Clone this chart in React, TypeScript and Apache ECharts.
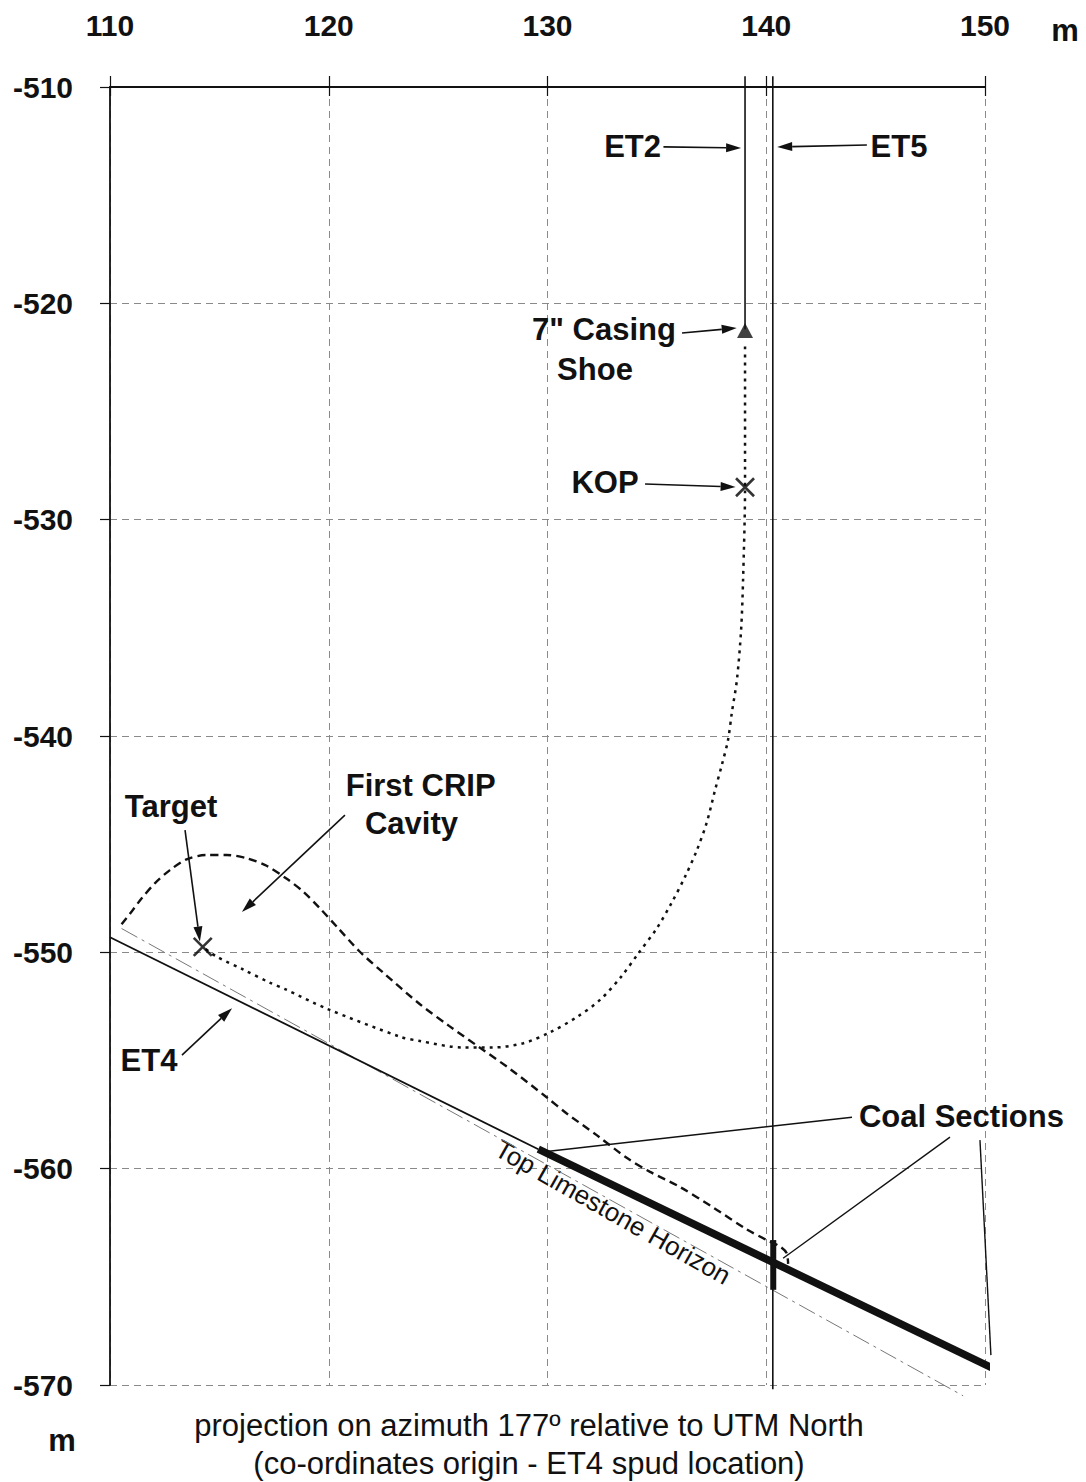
import React, { useEffect, useRef } from "react";
import * as echarts from "echarts";

const xTickValues = [110, 120, 130, 140, 150];
const yTickValues = [-510, -520, -530, -540, -550, -560, -570];

const et2Well = [[139.03, -509.5], [139.03, -521.2]];
const et5Well = [[140.3, -509.5], [140.3, -570.2]];
const casingShoe = [[139.03, -521.25]];
const kickOffPoint = [[139.03, -528.5]];
const targetPoint = [[114.24, -549.75]];

const plannedTrajectory = [
  [139.03, -522.0], [139.03, -528.5], [138.94, -532.8], [138.85, -535.1],
  [138.66, -537.4], [138.43, -538.9], [138.25, -540.2], [137.98, -541.3],
  [137.66, -542.5], [137.28, -544.0], [136.82, -545.3], [136.29, -546.5],
  [135.68, -547.7], [134.99, -548.9], [134.15, -550.05], [133.39, -551.1],
  [132.4, -552.2], [131.33, -553.0], [130.11, -553.7], [128.9, -554.2],
  [127.5, -554.4], [126.15, -554.4], [124.17, -554.1], [123.26, -553.9],
  [119.9, -552.6], [118.0, -551.7], [117.3, -551.4], [116.1, -550.8],
  [114.88, -550.2], [114.24, -549.75],
];

const cavityOutline = [
  [110.53, -548.7], [111.0, -548.1], [111.45, -547.5], [112.06, -546.8],
  [112.74, -546.2], [113.5, -545.7], [114.42, -545.5], [115.33, -545.5],
  [116.25, -545.65], [117.16, -546.0], [118.08, -546.6], [118.84, -547.2],
  [119.6, -547.97], [120.4, -548.85], [121.4, -549.95], [122.5, -550.95],
  [124.17, -552.4], [125.5, -553.4], [126.9, -554.4], [128.3, -555.4],
  [129.96, -556.7], [130.88, -557.45], [132.25, -558.45], [133.62, -559.5],
  [134.69, -560.15], [136.06, -560.85], [137.58, -561.8], [139.1, -562.8],
  [140.02, -563.3], [140.63, -563.6], [140.93, -563.9], [141.0, -564.4],
];

const et4Upper = [[110.0, -549.3], [129.58, -559.1]];
const et4Coal = [[129.58, -559.1], [150.3, -569.2]];
const et5Coal = [[140.32, -563.3], [140.32, -565.6]];
const limestoneHorizon = [[110.53, -548.9], [149.0, -570.5]];

const labelTexts = ["ET2", "ET5", "7\" Casing", "Shoe", "KOP", "Target", "First CRIP", "Cavity", "ET4", "Coal Sections"];
const labelAnchors = [
  [133.89, -512.77], [146.07, -512.77], [132.58, -521.23], [132.17, -523.08],
  [132.63, -528.26], [112.79, -543.24], [124.2, -542.27], [123.78, -544.03],
  [111.78, -554.98], [148.92, -557.57],
];

const arrowStarts = [
  [135.3, -512.77], [144.6, -512.68], [136.15, -521.37], [134.46, -528.35],
  [113.43, -544.35], [120.74, -543.66], [113.29, -554.75],
];
const arrowEnds = [
  [138.85, -512.82], [140.5, -512.77], [138.65, -521.14], [138.6, -528.49],
  [114.11, -549.5], [116.03, -548.14], [115.58, -552.58],
];

const leaderStarts = [[143.92, -557.62], [148.4, -558.54], [149.77, -558.68]];
const leaderEnds = [[129.66, -559.24], [140.77, -564.14], [150.27, -568.62]];

const horizonLabel = "Top Limestone Horizon";
const horizonLabelAnchor = [132.99, -562.01];

const captionLines = [
  "projection on azimuth 177º relative to UTM North",
  "(co-ordinates origin - ET4 spud location)",
];

const INK = "#111";
const BOLD = 'bold 31px "Liberation Sans", Arial, sans-serif';

export default function App() {
  const ref = useRef<HTMLDivElement>(null);

  useEffect(() => {
    if (!ref.current) return;
    const chart = echarts.init(ref.current, null, { renderer: "svg" });

    const crossSymbol = "path://M0 0 L10 10 M10 0 L0 10";

    const lineSeries = (data: number[][], width: number, type: any, color = INK, z = 3, smooth: any = false) => ({
      type: "line",
      data,
      clip: false,
      symbol: "none",
      silent: true,
      smooth,
      z,
      lineStyle: { color, width, type, cap: "butt" },
    });

    const option: any = {
      animation: false,
      backgroundColor: "#fff",
      grid: { left: 110, top: 87, width: 875, height: 1298, containLabel: false },
      xAxis: [
        {
          type: "value",
          position: "top",
          min: 110,
          max: 150,
          interval: 10,
          axisLine: { show: true, lineStyle: { color: INK, width: 1.8 } },
          axisTick: { show: true, length: 11, lineStyle: { color: INK, width: 1.2 } },
          axisLabel: {
            margin: 47,
            color: INK,
            fontSize: 30,
            fontWeight: "bold",
            fontFamily: '"Liberation Sans", Arial, sans-serif',
            formatter: (v: number) => (xTickValues.includes(v) ? String(v) : ""),
          },
          splitLine: { show: true, lineStyle: { color: "#8a8a8a", width: 1, type: [7, 5] } },
        },
        {
          type: "value",
          position: "top",
          min: 110,
          max: 150,
          interval: 10,
          axisLine: { show: false },
          axisTick: { show: true, inside: true, length: 9, lineStyle: { color: INK, width: 1.2 } },
          axisLabel: { show: false },
          splitLine: { show: false },
        },
      ],
      yAxis: {
        type: "value",
        min: -570,
        max: -510,
        interval: 10,
        axisLine: { show: true, lineStyle: { color: INK, width: 1.8 } },
        axisTick: { show: true, length: 10, lineStyle: { color: INK, width: 1.2 } },
        axisLabel: {
          margin: 37,
          color: INK,
          fontSize: 30,
          fontWeight: "bold",
          fontFamily: '"Liberation Sans", Arial, sans-serif',
          formatter: (v: number) => (yTickValues.includes(v) ? String(v) : ""),
        },
        splitLine: { show: true, lineStyle: { color: "#8a8a8a", width: 1, type: [7, 5] } },
      },
      series: [
        lineSeries(limestoneHorizon, 1, [18, 5, 3, 5], "#777", 2),
        lineSeries(et2Well, 1.6, "solid"),
        lineSeries(et5Well, 1.6, "solid"),
        lineSeries(plannedTrajectory, 2.5, [3, 5], INK, 3, 0.3),
        lineSeries(cavityOutline, 2.4, [8, 5], INK, 3, 0.3),
        lineSeries(et4Upper, 1.8, "solid"),
        lineSeries(et4Coal, 7.5, "solid"),
        lineSeries(et5Coal, 6, "solid"),
        {
          type: "scatter",
          data: casingShoe,
          symbol: "triangle",
          symbolSize: [16, 15],
          clip: false,
          z: 5,
          itemStyle: { color: INK },
        },
        {
          type: "scatter",
          data: [...kickOffPoint, ...targetPoint],
          symbol: crossSymbol,
          symbolSize: 18,
          clip: false,
          z: 5,
          itemStyle: { color: "none", borderColor: "#000", borderWidth: 2.6 },
        },
      ],
    };

    chart.setOption(option);

    const px = (p: number[]) => chart.convertToPixel({ xAxisIndex: 0, yAxisIndex: 0 }, p) as number[];
    const elements: any[] = [];

    labelTexts.forEach((t, i) => {
      const p = px(labelAnchors[i]);
      elements.push({
        type: "text",
        x: p[0],
        y: p[1],
        style: { text: t, font: BOLD, fill: INK, textAlign: "center", textVerticalAlign: "middle" },
      });
    });

    arrowStarts.forEach((s, i) => {
      const a = px(s);
      const b = px(arrowEnds[i]);
      const dx = b[0] - a[0];
      const dy = b[1] - a[1];
      const L = Math.hypot(dx, dy);
      const ux = dx / L;
      const uy = dy / L;
      const hl = 15;
      const hw = 4.5;
      const bx = b[0] - ux * hl;
      const by = b[1] - uy * hl;
      elements.push({
        type: "line",
        shape: { x1: a[0], y1: a[1], x2: bx, y2: by },
        style: { stroke: INK, lineWidth: 1.6 },
      });
      elements.push({
        type: "polygon",
        shape: { points: [[b[0], b[1]], [bx - uy * hw, by + ux * hw], [bx + uy * hw, by - ux * hw]] },
        style: { fill: INK },
      });
    });

    leaderStarts.forEach((s, i) => {
      const a = px(s);
      const b = px(leaderEnds[i]);
      elements.push({
        type: "line",
        shape: { x1: a[0], y1: a[1], x2: b[0], y2: b[1] },
        style: { stroke: INK, lineWidth: 1.4 },
      });
    });

    const hp = px(horizonLabelAnchor);
    elements.push({
      type: "text",
      x: hp[0],
      y: hp[1],
      rotation: (-29.5 * Math.PI) / 180,
      style: {
        text: horizonLabel,
        font: '26px "Liberation Sans", Arial, sans-serif',
        fill: INK,
        textAlign: "center",
        textVerticalAlign: "middle",
      },
    });

    elements.push({
      type: "text",
      x: 1065,
      y: 30,
      style: { text: "m", font: BOLD, fill: INK, textAlign: "center", textVerticalAlign: "middle" },
    });
    elements.push({
      type: "text",
      x: 62,
      y: 1440,
      style: { text: "m", font: BOLD, fill: INK, textAlign: "center", textVerticalAlign: "middle" },
    });
    captionLines.forEach((t, i) => {
      elements.push({
        type: "text",
        x: 529,
        y: 1425 + i * 38,
        style: {
          text: t,
          font: '31px "Liberation Sans", Arial, sans-serif',
          fill: INK,
          textAlign: "center",
          textVerticalAlign: "middle",
        },
      });
    });

    chart.setOption({ graphic: { elements } });

    return () => chart.dispose();
  }, []);

  return (
    <div
      ref={ref}
      style={{ position: "absolute", left: 0, top: 0, width: 1086, height: 1482, background: "#fff" }}
    />
  );
}
